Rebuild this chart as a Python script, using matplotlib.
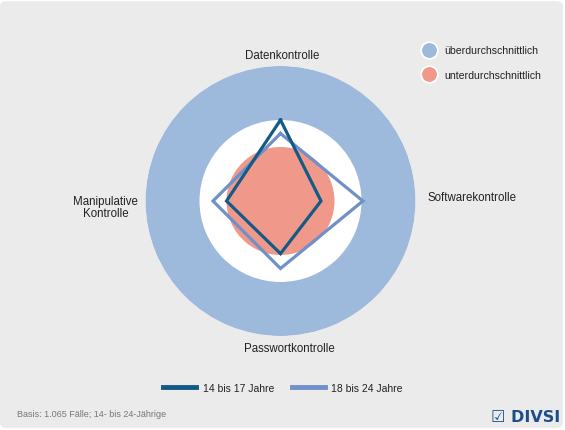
import numpy as np
import matplotlib.pyplot as plt
from matplotlib.patches import FancyBboxPatch
from matplotlib.lines import Line2D

plt.rcParams['font.family'] = ['Liberation Sans', 'DejaVu Sans']

categories = ['Datenkontrolle', 'Softwarekontrolle', 'Passwortkontrolle', 'Manipulative\nKontrolle']
# ring limits (0-100 scale)
ring_outer = 100
ring_mid = 60
ring_inner = 40
series_names = ['14 bis 17 Jahre', '18 bis 24 Jahre']
values_14_17 = [60, 30, 39, 40]
values_18_24 = [50, 61, 50, 50]
band_labels = ['überdurchschnittlich', 'unterdurchschnittlich']

c_blue = '#9dbadc'
c_salmon = '#f0998a'
c_dark = '#135a87'
c_light = '#7090c8'
bg = '#ebebeb'

W, H = 565, 431
fig = plt.figure(figsize=(W / 100, H / 100), dpi=100)
fig.patch.set_facecolor('white')
panel = FancyBboxPatch((0, 2 / H), 563 / W, 429 / H - 2 / H,
                       boxstyle='round,pad=0,rounding_size=0.012',
                       transform=fig.transFigure, facecolor=bg, edgecolor='none', zorder=-10)
fig.patches.append(panel)

cx, cy, r = 280.5, 202, 135
ax = fig.add_axes([(cx - r) / W, (H - cy - r) / H, 2 * r / W, 2 * r / H], projection='polar')
ax.set_theta_offset(np.pi / 2)
ax.set_theta_direction(-1)
ax.set_facecolor('none')
ax.set_ylim(0, ring_outer)
ax.bar(0, ring_outer, width=2 * np.pi, bottom=0, color=c_blue, linewidth=0)
ax.bar(0, ring_mid, width=2 * np.pi, bottom=0, color='white', linewidth=0)
ax.bar(0, ring_inner, width=2 * np.pi, bottom=0, color=c_salmon, linewidth=0)

angles = np.arange(len(categories)) * 2 * np.pi / len(categories)
closed = np.append(angles, angles[0])
ax.plot(closed, values_18_24 + values_18_24[:1], color=c_light, lw=2.3, solid_joinstyle='miter')
ax.plot(closed, values_14_17 + values_14_17[:1], color=c_dark, lw=2.3, solid_joinstyle='miter')
ax.set_xticks([])
ax.set_yticks([])
ax.grid(False)
ax.spines['polar'].set_visible(False)

# axis labels
lab_pos = [(282, 56), (472.5, 198), (289, 349), (105.5, 208)]
for name, (x, y) in zip(categories, lab_pos):
    fig.text(x / W, 1 - y / H, name, ha='center', va='center', fontsize=8.3, color='#222222',
             linespacing=1.1)

# top-right legend
hb = [Line2D([], [], ls='none', marker='o', markersize=12, markerfacecolor=c,
             markeredgecolor='white', markeredgewidth=1.3) for c in (c_blue, c_salmon)]
fig.legend(hb, band_labels, loc='upper left', bbox_to_anchor=(416 / W, 1 - 41 / H),
           frameon=False, fontsize=7.6, handletextpad=0.7, labelspacing=1.35,
           handlelength=1.5, labelcolor='#222222', borderpad=0)

# bottom legend
hl = [Line2D([], [], color=c, lw=3.5) for c in (c_dark, c_light)]
fig.legend(hl, series_names, loc='center', bbox_to_anchor=(283 / W, 1 - 389 / H), ncol=2,
           frameon=False, fontsize=7.5, handlelength=3.2, handletextpad=0.6,
           columnspacing=1.7, labelcolor='#222222')

fig.text(17 / W, 1 - 415 / H, 'Basis: 1.065 Fälle; 14- bis 24-Jährige', fontsize=6.5,
         color='#777777', va='center')
fig.text(560 / W, 1 - 418 / H, '☑ DIVSI', fontsize=11.5, fontweight='bold', color='#1c4f8a',
         ha='right', va='center', family=['DejaVu Sans'])

fig.savefig('out.png', dpi=100, facecolor=fig.get_facecolor())
